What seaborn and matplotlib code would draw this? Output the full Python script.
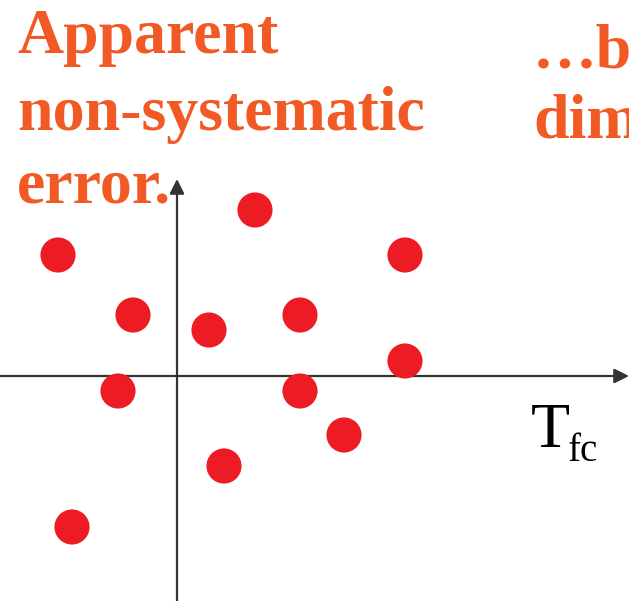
import matplotlib
matplotlib.use("Agg")
import matplotlib.pyplot as plt
import seaborn as sns
import pandas as pd

# data (arbitrary units, origin at axis crossing)
x_vals = [-2.38, 1.56, 4.56, -0.88, 0.64, 2.46, 4.56, -1.18, 2.46, 3.34, 0.94, -2.10]
y_vals = [2.42, 3.32, 2.42, 1.22, 0.92, 1.22, 0.30, -0.30, -0.30, -1.18, -1.80, -3.02]
title_left = ["Apparent", "non-systematic", "error."]
title_right = ["\u2026b", "dim"]
axis_label = "T"
axis_sub = "fc"

df = pd.DataFrame({"x": x_vals, "y": y_vals})

sns.set_style("white")
plt.rcParams['font.family'] = ['Liberation Serif', 'DejaVu Serif']

fig = plt.figure(figsize=(6.29, 6.01), dpi=100)
ax = fig.add_axes([0, 0, 1, 1])
ax.set_xlim(-3.54, 9.04)
ax.set_ylim(-4.5, 7.52)
ax.axis("off")

axis_color = "#333333"
ax.annotate("", xy=(9.04, 0), xytext=(-3.6, 0), annotation_clip=False,
            arrowprops=dict(arrowstyle="-|>", color=axis_color, lw=1.6,
                            mutation_scale=22, shrinkA=0, shrinkB=0))
ax.annotate("", xy=(0, 3.94), xytext=(0, -4.6), annotation_clip=False,
            arrowprops=dict(arrowstyle="-|>", color=axis_color, lw=1.6,
                            mutation_scale=22, shrinkA=0, shrinkB=0))

sns.scatterplot(data=df, x="x", y="y", ax=ax, s=640, color="#ED1C24",
                edgecolor="none", linewidth=0, zorder=3)

orange = "#F15A24"
left_baselines = [53, 130, 203]
for t, b in zip(title_left, left_baselines):
    fig.text(17 / 629, 1 - b / 601, t, color=orange, fontsize=46,
             fontweight="bold", ha="left", va="baseline")
right_baselines = [68, 137]
for t, b in zip(title_right, right_baselines):
    fig.text(533 / 629, 1 - b / 601, t, color=orange, fontsize=46,
             fontweight="bold", ha="left", va="baseline")

fig.text(531 / 629, 1 - 447 / 601, axis_label, color="black", fontsize=46,
         ha="left", va="baseline")
fig.text(568 / 629, 1 - 461 / 601, axis_sub, color="black", fontsize=28,
         ha="left", va="baseline")

fig.savefig("out.png", dpi=100)
